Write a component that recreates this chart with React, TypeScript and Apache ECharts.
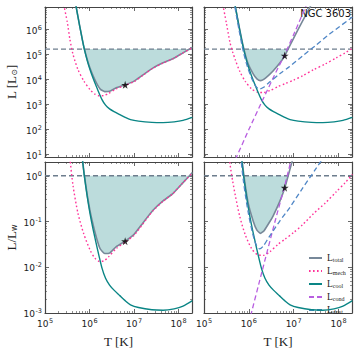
import React, { useEffect, useRef } from 'react';
import * as echarts from 'echarts';

// ---- data (log10 values) ----
const LwLog = 5.22; // mechanical wind luminosity L_w (log10 Lsun)

// cooling luminosity (same in both models)
const coolLogT = [5.69, 5.78, 5.84, 5.88, 5.95, 6.01, 6.08, 6.17, 6.28, 6.36, 6.45, 6.55, 6.68, 6.80, 6.92, 7.10, 7.40, 7.65, 7.90, 8.10, 8.31];
const coolLogL = [7.00, 6.13, 5.58, 5.24, 4.75, 4.40, 4.05, 3.65, 3.20, 2.98, 2.83, 2.72, 2.60, 2.49, 2.40, 2.34, 2.29, 2.28, 2.31, 2.37, 2.49];

// left column model
const mechALogT = [5.42, 5.50, 5.56, 5.63, 5.74, 5.87, 6.02, 6.12, 6.22, 6.32, 6.42, 6.60, 6.80, 7.00, 7.20, 7.42, 7.65, 7.87, 8.09, 8.31];
const mechALogL = [7.00, 6.30, 5.60, 5.00, 4.40, 3.95, 3.58, 3.42, 3.35, 3.36, 3.44, 3.63, 3.77, 3.92, 4.17, 4.45, 4.66, 4.83, 5.06, 5.28];
const totALogT = [5.69, 5.78, 5.84, 5.88, 5.95, 6.01, 6.08, 6.16, 6.24, 6.34, 6.45, 6.60, 6.80, 7.00, 7.20, 7.42, 7.65, 7.87, 8.09, 8.31];
const totALogL = [7.00, 6.14, 5.59, 5.26, 4.79, 4.46, 4.15, 3.85, 3.62, 3.52, 3.53, 3.67, 3.79, 3.94, 4.19, 4.46, 4.67, 4.83, 5.06, 5.29];
const starALogT = [6.80];
const starALogL = [3.79];

// right column model (NGC 3603)
const mechBLogT = [5.42, 5.50, 5.58, 5.64, 5.70, 5.80, 5.92, 6.06, 6.20, 6.32, 6.47, 6.65, 6.80, 7.00, 7.20, 7.45, 7.70, 7.95, 8.15, 8.31];
const mechBLogL = [7.00, 6.25, 5.48, 5.10, 4.78, 4.32, 3.93, 3.63, 3.49, 3.48, 3.56, 3.72, 3.83, 3.98, 4.15, 4.40, 4.62, 4.87, 5.07, 5.25];
const totBLogT = [5.69, 5.78, 5.88, 5.98, 6.10, 6.18, 6.26, 6.34, 6.47, 6.54, 6.69, 6.80, 7.00, 7.20, 7.40];
const totBLogL = [7.00, 6.15, 5.30, 4.65, 4.22, 4.03, 3.96, 4.02, 4.22, 4.34, 4.66, 4.95, 5.66, 6.35, 7.02];
const condBLogT = [5.70, 6.00, 6.30, 6.60, 6.80, 7.00, 7.30];
const condBLogL = [0.80, 2.00, 3.15, 4.28, 5.00, 5.80, 7.05];
const dustBLogT = [5.69, 5.78, 5.88, 5.98, 6.08, 6.16, 6.24, 6.32, 6.45, 6.69, 6.91, 7.20, 7.50, 7.80, 8.31];
const dustBLogL = [6.90, 6.00, 5.10, 4.45, 3.98, 3.72, 3.62, 3.68, 3.88, 4.23, 4.52, 4.95, 5.38, 5.82, 6.50];
const starBLogT = [6.80];
const starBLogL = [4.96];

const xMajor = [1e5, 1e6, 1e7, 1e8];
const yMajorTop = [1e1, 1e2, 1e3, 1e4, 1e5, 1e6];
const yMajorBot = [1e-3, 1e-2, 1e-1, 1e0];

const C = {
  total: '#778899',
  mech: '#ff3399',
  cool: '#0a8585',
  cond: '#b85ee0',
  dust: '#4f86c6',
  lw: '#6d7d8d',
  fill: '#bcdcdc',
  frame: '#444',
};

const pts = (lt: number[], ll: number[], shift = 0) => lt.map((t, i) => [Math.pow(10, t), Math.pow(10, ll[i] - shift)]);

function minors(lo: number, hi: number) {
  const out: number[] = [];
  for (let e = -4; e <= 9; e++) {
    for (let m = 2; m <= 9; m++) {
      const v = m * Math.pow(10, e);
      if (v > lo * 1.0001 && v < hi * 0.9999) out.push(v);
    }
  }
  return out;
}

const supRich = {
  b: { fontSize: 9, fontFamily: 'DejaVu Sans', color: '#222', lineHeight: 11, verticalAlign: 'bottom' },
  s: { fontSize: 6.5, fontFamily: 'DejaVu Sans', color: '#222', lineHeight: 11, verticalAlign: 'top', padding: [0, 0, 0, 0.5] },
};
const supFmt = (v: number) => `{b|10}{s|${Math.round(Math.log10(v))}}`;

const nameRich = {
  a: { fontSize: 13, fontFamily: 'Liberation Serif', color: '#222' },
  s: { fontSize: 8, fontFamily: 'DejaVu Sans', color: '#222', padding: [6, 0, 0, 0] },
};

function axisSet(dim: 'x' | 'y', g: number, min: number, max: number, majors: number[], showLabels: boolean, name: string) {
  const pos = dim === 'x' ? ['bottom', 'top'] : ['left', 'right'];
  const mins = minors(min, max);
  const out: any[] = [];
  pos.forEach((p, k) => {
    out.push({
      type: 'log', gridIndex: g, min, max, position: p,
      axisLine: { show: true, lineStyle: { color: C.frame, width: 1.2 } },
      axisTick: { show: true, inside: true, length: 4, customValues: majors, lineStyle: { color: C.frame, width: 0.8 } },
      axisLabel: k === 0 && showLabels ? { show: true, customValues: majors, formatter: supFmt, rich: supRich, margin: dim === 'x' ? 4 : 3 } : { show: false },
      splitLine: { show: false },
      name: k === 0 ? name : '',
      nameLocation: 'middle',
      nameGap: dim === 'x' ? 22 : 27,
      nameRotate: dim === 'y' ? 90 : 0,
      nameTextStyle: { rich: nameRich },
    });
  });
  pos.forEach((p) => {
    out.push({
      type: 'log', gridIndex: g, min, max, position: p,
      axisLine: { show: false },
      axisTick: { show: true, inside: true, length: 2, customValues: mins, lineStyle: { color: C.frame, width: 0.6 } },
      axisLabel: { show: false },
      splitLine: { show: false },
    });
  });
  return out;
}

function fillSeries(g: number, lt: number[], ll: number[], shift: number) {
  const data = pts(lt, ll, shift);
  const lw = Math.pow(10, LwLog - shift);
  return {
    type: 'custom', xAxisIndex: 4 * g, yAxisIndex: 4 * g, silent: true, z: 1, clip: true,
    data: [0],
    renderItem: (_p: any, api: any) => {
      const P = data.map((d) => api.coord(d));
      const yw = api.coord([data[0][0], lw])[1];
      const poly: number[][] = [];
      for (let i = 0; i < P.length; i++) {
        const p = P[i];
        const inside = p[1] >= yw;
        if (inside) poly.push(p);
        if (i + 1 < P.length) {
          const q = P[i + 1];
          const inside2 = q[1] >= yw;
          if (inside !== inside2) {
            const f = (yw - p[1]) / (q[1] - p[1]);
            poly.push([p[0] + f * (q[0] - p[0]), yw]);
          }
        }
      }
      return { type: 'polygon', shape: { points: poly }, style: { fill: C.fill } };
    },
  };
}

function lineS(g: number, name: string, data: number[][], color: string, type: any, width: number, z: number, smooth = 0.25) {
  return {
    type: 'line', name, xAxisIndex: 4 * g, yAxisIndex: 4 * g, data, symbol: 'none', smooth, z,
    lineStyle: { color, type, width }, itemStyle: { color }, clip: true,
  };
}

const starPath = 'path://M50,0 L61,35 L98,35 L68,57 L79,91 L50,70 L21,91 L32,57 L2,35 L39,35 Z';

function panelSeries(g: number, model: 'A' | 'B', shift: number) {
  const s: any[] = [];
  const totT = model === 'A' ? totALogT : totBLogT;
  const totL = model === 'A' ? totALogL : totBLogL;
  s.push(fillSeries(g, totT, totL, shift));
  s.push({
    type: 'line', name: 'Lw', xAxisIndex: 4 * g, yAxisIndex: 4 * g, symbol: 'none', z: 2,
    data: [[1e5, Math.pow(10, LwLog - shift)], [2e8, Math.pow(10, LwLog - shift)]],
    lineStyle: { color: C.lw, type: [5, 3], width: 1.4 },
  });
  s.push(lineS(g, 'L_total', pts(totT, totL, shift), C.total, 'solid', 1.6, 3, 0.15));
  if (model === 'A') s.push(lineS(g, 'L_mech', pts(mechALogT, mechALogL, shift), C.mech, [1.6, 2.4], 1.4, 4));
  else s.push(lineS(g, 'L_mech', pts(mechBLogT, mechBLogL, shift), C.mech, [1.6, 2.4], 1.4, 4));
  s.push(lineS(g, 'L_cool', pts(coolLogT, coolLogL, shift), C.cool, 'solid', 1.4, 5));
  if (model === 'B') {
    s.push(lineS(g, 'L_cond', pts(condBLogT, condBLogL, shift), C.cond, [5, 3], 1.3, 6, 0.2));
    s.push(lineS(g, 'L_dust', pts(dustBLogT, dustBLogL, shift), C.dust, [5, 3], 1.3, 7));
  }
  const st = model === 'A' ? pts(starALogT, starALogL, shift) : pts(starBLogT, starBLogL, shift);
  s.push({
    type: 'scatter', xAxisIndex: 4 * g, yAxisIndex: 4 * g, data: st, symbol: starPath, symbolSize: 8, z: 10,
    itemStyle: { color: '#000' }, silent: true,
  });
  return s;
}

const subNames: Record<string, string> = {
  L_total: 'total', L_mech: 'mech', L_cool: 'cool', L_cond: 'cond', L_dust: 'dust',
};

export default function App() {
  const ref = useRef<HTMLDivElement>(null);
  useEffect(() => {
    if (!ref.current) return;
    const chart = echarts.init(ref.current, undefined, { renderer: 'svg' });
    const grids = [
      { left: 45, top: 7, width: 147, height: 150 },
      { left: 204, top: 7, width: 148, height: 150 },
      { left: 45, top: 162, width: 147, height: 151 },
      { left: 204, top: 162, width: 148, height: 151 },
    ];
    const xAxis = [
      ...axisSet('x', 0, 1e5, 2e8, xMajor, false, ''),
      ...axisSet('x', 1, 1e5, 2e8, xMajor, false, ''),
      ...axisSet('x', 2, 1e5, 2e8, xMajor, true, '{a|T [K]}'),
      ...axisSet('x', 3, 1e5, 2e8, xMajor, true, '{a|T [K]}'),
    ];
    const yAxis = [
      ...axisSet('y', 0, 8, 8e6, yMajorTop, true, '{a|L [L}{s|⊙}{a|]}'),
      ...axisSet('y', 1, 8, 8e6, yMajorTop, false, ''),
      ...axisSet('y', 2, 1e-3, 2, yMajorBot, true, '{a|L/L}{s|w}'),
      ...axisSet('y', 3, 1e-3, 2, yMajorBot, false, ''),
    ];
    const series = [
      ...panelSeries(0, 'A', 0),
      ...panelSeries(1, 'B', 0),
      ...panelSeries(2, 'A', LwLog),
      ...panelSeries(3, 'B', LwLog),
    ];
    chart.setOption({
      animation: false,
      backgroundColor: '#fff',
      title: {
        text: 'NGC 3603', right: 8, top: 8, padding: 0,
        textStyle: { fontSize: 10, fontWeight: 'normal', fontFamily: 'DejaVu Sans', color: '#111' },
      },
      grid: grids,
      xAxis, yAxis, series,
      legend: {
        data: ['L_total', 'L_mech', 'L_cool', 'L_cond', 'L_dust'],
        orient: 'vertical', left: 308, top: 253, itemWidth: 13, itemHeight: 8, itemGap: 3, padding: 0,
        selectedMode: false,
        itemStyle: { opacity: 0 },
        formatter: (n: string) => `{a|L}{b|${subNames[n]}}`,
        textStyle: {
          rich: {
            a: { fontSize: 9.5, fontFamily: 'Liberation Serif', color: '#222', lineHeight: 9 },
            b: { fontSize: 6, fontFamily: 'Liberation Serif', color: '#222', padding: [4, 0, 0, 0] },
          },
        },
      },
    });
    return () => chart.dispose();
  }, []);
  return <div ref={ref} style={{ width: 359, height: 359, position: 'absolute', left: 0, top: 0 }} />;
}
